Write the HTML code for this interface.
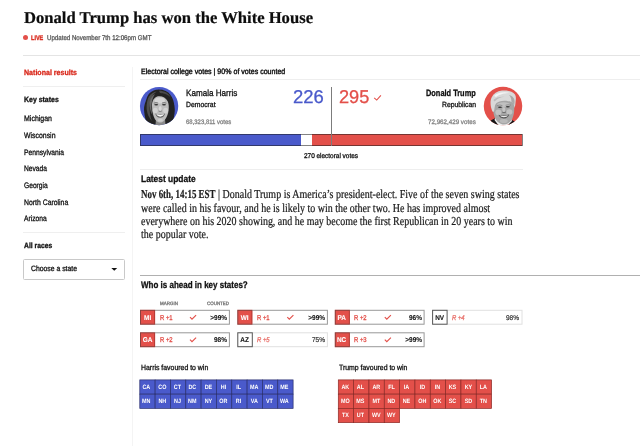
<!DOCTYPE html>
<html lang="en"><head><meta charset="utf-8"><title>Donald Trump has won the White House</title>
<style>
html,body{margin:0;padding:0;background:#fff;}
body{width:640px;height:446px;position:relative;overflow:hidden;font-family:"Liberation Sans",sans-serif;}
.t{position:absolute;white-space:nowrap;line-height:1;text-rendering:geometricPrecision;transform-origin:0 0;margin:0;padding:0;}
.hr{position:absolute;height:1px;}
.abs{position:absolute;}
</style></head><body>

<div class="hr" style="left:23px;top:55px;width:617px;background:#e4e4e4"></div>
<div class="hr" style="left:23px;top:86px;width:102px;background:#efefef"></div>
<div class="hr" style="left:23px;top:232px;width:102px;background:#efefef"></div>
<div class="abs" style="left:131.5px;top:67px;width:1px;height:379px;background:#f4f4f4"></div>
<div class="hr" style="left:140px;top:79px;width:500px;background:#eeeeee"></div>
<div class="hr" style="left:140px;top:169px;width:383px;background:#eeeeee"></div>
<div class="hr" style="left:140px;top:275px;width:500px;background:#b0b0b0"></div>
<div class="abs" style="left:23.2px;top:34.8px;width:5px;height:5px;border-radius:50%;background:#e3504a"></div>
<div class="abs" style="left:23px;top:259px;width:100px;height:18.5px;border:1px solid #c9c9c9;border-radius:1.5px;box-sizing:content-box"></div>
<svg class="abs" style="left:110.5px;top:268px" width="7" height="3.5" viewBox="0 0 7 3.5"><path d="M0.3 0H6.2L3.25 2.8Z" fill="#111"/></svg>
<div class="abs" style="left:140px;top:134px;width:160.5px;height:12px;background:#4a5acb"></div>
<div class="abs" style="left:312.3px;top:134px;width:210.2px;height:12px;background:#e3504a"></div>
<div class="abs" style="left:139.8px;top:133.6px;width:382.8px;height:12.6px;border:0.8px solid rgba(30,30,30,0.55);box-sizing:border-box"></div>
<div class="abs" style="left:331px;top:87px;width:1px;height:59px;background:#7c7c7c"></div>
<svg class="abs" style="left:373px;top:93.7px" width="10" height="8" viewBox="0 0 10 8"><path d="M1.2 3.9L3.7 6.1L7.9 1.4" fill="none" stroke="#e3504a" stroke-width="1.1"/></svg>
<svg class="abs" style="left:139px;top:85.6px" width="40" height="40" viewBox="0 0 40 40">
<defs><clipPath id="ch"><circle cx="20.1" cy="20.1" r="19.15"/></clipPath>
<filter id="b1" x="-20%" y="-20%" width="140%" height="140%"><feGaussianBlur stdDeviation="0.55"/></filter></defs>
<circle cx="20.1" cy="20.1" r="19.15" fill="#4a5acb"/>
<g clip-path="url(#ch)"><g filter="url(#b1)">
<path d="M19.7 3.6C13 3.6 9 8 7.6 12.5C6 17 4.8 20 5 23.5C5.2 27 5.6 29 6 31C6.6 34.5 7.5 37 9 40L32.5 40C34 37 34.6 34 35 30.5C35.8 27 36 24 35.6 21C35 16 34 12 31.5 9C29 5.5 25 3.6 19.7 3.6Z" fill="#242424"/>
<path d="M8.6 14C9.6 9.6 13 6.4 17.5 5.4C14 8 12.4 11 11.4 15C10.4 19 10.4 23 11 28C11.4 31 12 33 13 35C10 32 8.4 28 7.8 24C7.4 20 7.8 17 8.6 14Z" fill="#505050"/>
<path d="M10.6 17C11 13 13 9.6 16 8C14 11 13 14 12.6 18C12.2 22 12.6 26 13.4 29C11.4 26 10.4 21 10.6 17Z" fill="#6a6a6a"/>
<path d="M20 4.8C25 4.8 29.4 7 31.4 11C28.5 8.4 25 7.2 21 7Z" fill="#4a4a4a"/>
<path d="M16.6 38L17 33L26 33L26.4 38L28 40L15 40Z" fill="#8a8a8a"/>
<path d="M13 20C12.8 15 15 11.5 18.3 10.4C19.2 10.1 19.6 10.2 20 10.3C23.5 10.2 27.2 12 28.8 15.5C29.8 18 30 21 29.6 24C29.2 28 27.8 31.5 25.7 34C24.2 35.8 22.6 36.6 21.3 36.6C19.8 36.6 18 35.8 16.6 34C14.6 31.2 13.2 27 13 20Z" fill="#bdbdbd"/>
<ellipse cx="20.8" cy="14.4" rx="5.2" ry="3" fill="#d6d6d6"/>
<ellipse cx="16.2" cy="24.6" rx="2.5" ry="2.8" fill="#d2d2d2"/>
<ellipse cx="26.6" cy="24.6" rx="2.5" ry="2.8" fill="#d2d2d2"/>
<ellipse cx="21.2" cy="22.6" rx="1.4" ry="2.6" fill="#d8d8d8"/>
<ellipse cx="21.3" cy="34" rx="2.6" ry="1.5" fill="#cfcfcf"/>
<ellipse cx="17.2" cy="18.8" rx="2" ry="0.8" fill="#333"/>
<ellipse cx="25" cy="18.8" rx="2" ry="0.8" fill="#333"/>
<path d="M14.8 17.2Q17 16 19.2 17" stroke="#4a4a4a" stroke-width="0.6" fill="none"/>
<path d="M23 17Q25.2 16 27.4 17.2" stroke="#4a4a4a" stroke-width="0.6" fill="none"/>
<path d="M19.6 25Q21.2 26 22.8 25" stroke="#777" stroke-width="0.9" fill="none"/>
<path d="M16.2 27.4Q21.2 29.2 26.2 27.4Q25 31.6 21.2 31.8Q17.4 31.6 16.2 27.4Z" fill="#666"/>
<path d="M17.1 28.1Q21.2 29.4 25.3 28.1Q24.4 30.5 21.2 30.7Q18 30.5 17.1 28.1Z" fill="#f6f6f6"/>
</g></g></svg>
<svg class="abs" style="left:483px;top:85.6px" width="40" height="40" viewBox="0 0 40 40">
<defs><clipPath id="ct"><circle cx="20" cy="20.1" r="19.25"/></clipPath></defs>
<circle cx="20" cy="20.1" r="19.25" fill="#e3504a"/>
<g clip-path="url(#ct)"><g filter="url(#b1)">
<path d="M5 40L7.6 34.6L12.5 32L28 33.4L32.5 36L35 40Z" fill="#151515"/>
<path d="M11.5 34L12.5 31L28 32L29 35L24 40L16 40Z" fill="#f0f0f0"/>
<path d="M10 21C9.8 17 12 14 15 13L27 13C30.4 14 31.4 17 31.2 21C31.4 25 31 29 29.4 32.4C27.5 36.2 24 38.4 20.8 38.4C17.6 38.4 14 36 12.2 32.4C10.6 29 10 25 10 21Z" fill="#a6a6a6"/>
<ellipse cx="20.6" cy="18.6" rx="6.5" ry="2.4" fill="#c0c0c0"/>
<ellipse cx="15.4" cy="26.4" rx="3" ry="2.8" fill="#c2c2c2"/>
<ellipse cx="26.4" cy="26" rx="3" ry="2.8" fill="#c2c2c2"/>
<ellipse cx="20.8" cy="23.6" rx="1.5" ry="2.6" fill="#c4c4c4"/>
<ellipse cx="20.8" cy="35" rx="4" ry="2" fill="#bababa"/>
<path d="M9.4 25.4C7.4 21 6.8 15 8.6 11.5C10.4 7.6 14 5.2 19 4.6C24.5 4 30 5.4 32 8.6C33.2 10.6 33 13 32.6 15.5C32.4 18 32.2 20 31.6 22C31.2 19.4 30.6 17.6 29.8 16.4C26 15 21 14 16.5 15.4C14 16.2 12.6 17.4 12 19.5C11.5 21.5 11.4 23.6 11 25.8Z" fill="#d9d9d9"/>
<path d="M11 10C14 6.4 21 5.6 27 7C22.6 7.2 17 7.8 13 11Z" fill="#f4f4f4"/>
<path d="M26 9C29 9.6 31.4 11.6 31.6 15C31.6 17 31.4 18.4 31 19.6C30.4 17.6 29.6 16.4 28.4 15.8C28.6 13.4 27.8 11 26 9Z" fill="#a9a9a9"/>
<path d="M10.4 14C12.6 11.6 17 10.4 21.5 10.8C17.4 11.4 14 12.8 11.6 15.6Z" fill="#bcbcbc"/>
<ellipse cx="17" cy="21.2" rx="2" ry="0.75" fill="#3a3a3a"/>
<ellipse cx="24.8" cy="20.8" rx="2" ry="0.75" fill="#3a3a3a"/>
<path d="M14.2 19.5Q17 18.5 19.4 19.6" stroke="#6e6e6e" stroke-width="0.6" fill="none"/>
<path d="M22.6 19.3Q25 18.3 27.8 19.1" stroke="#6e6e6e" stroke-width="0.6" fill="none"/>
<path d="M19.2 26.2Q21 27.3 23 26" stroke="#666" stroke-width="0.9" fill="none"/>
<path d="M15.4 28.8Q20.8 30.2 26.4 28.2Q25.2 32.2 20.8 32.5Q16.8 32.2 15.4 28.8Z" fill="#595959"/>
<path d="M16.8 29.5Q20.8 30.6 25.2 29.2Q24.2 31.1 20.8 31.3Q18 31.1 16.8 29.5Z" fill="#e9e9e9"/>
</g></g></svg>
<svg class="abs" style="left:0;top:0" width="640" height="446" viewBox="0 0 640 446"><rect x="139.80" y="379.90" width="15.33" height="14.25" fill="#4a5acb" stroke="#2a2f6e" stroke-width="0.7"/><rect x="155.13" y="379.90" width="15.33" height="14.25" fill="#4a5acb" stroke="#2a2f6e" stroke-width="0.7"/><rect x="170.46" y="379.90" width="15.33" height="14.25" fill="#4a5acb" stroke="#2a2f6e" stroke-width="0.7"/><rect x="185.79" y="379.90" width="15.33" height="14.25" fill="#4a5acb" stroke="#2a2f6e" stroke-width="0.7"/><rect x="201.12" y="379.90" width="15.33" height="14.25" fill="#4a5acb" stroke="#2a2f6e" stroke-width="0.7"/><rect x="216.45" y="379.90" width="15.33" height="14.25" fill="#4a5acb" stroke="#2a2f6e" stroke-width="0.7"/><rect x="231.78" y="379.90" width="15.33" height="14.25" fill="#4a5acb" stroke="#2a2f6e" stroke-width="0.7"/><rect x="247.11" y="379.90" width="15.33" height="14.25" fill="#4a5acb" stroke="#2a2f6e" stroke-width="0.7"/><rect x="262.44" y="379.90" width="15.33" height="14.25" fill="#4a5acb" stroke="#2a2f6e" stroke-width="0.7"/><rect x="277.77" y="379.90" width="15.33" height="14.25" fill="#4a5acb" stroke="#2a2f6e" stroke-width="0.7"/><rect x="139.80" y="394.15" width="15.33" height="14.25" fill="#4a5acb" stroke="#2a2f6e" stroke-width="0.7"/><rect x="155.13" y="394.15" width="15.33" height="14.25" fill="#4a5acb" stroke="#2a2f6e" stroke-width="0.7"/><rect x="170.46" y="394.15" width="15.33" height="14.25" fill="#4a5acb" stroke="#2a2f6e" stroke-width="0.7"/><rect x="185.79" y="394.15" width="15.33" height="14.25" fill="#4a5acb" stroke="#2a2f6e" stroke-width="0.7"/><rect x="201.12" y="394.15" width="15.33" height="14.25" fill="#4a5acb" stroke="#2a2f6e" stroke-width="0.7"/><rect x="216.45" y="394.15" width="15.33" height="14.25" fill="#4a5acb" stroke="#2a2f6e" stroke-width="0.7"/><rect x="231.78" y="394.15" width="15.33" height="14.25" fill="#4a5acb" stroke="#2a2f6e" stroke-width="0.7"/><rect x="247.11" y="394.15" width="15.33" height="14.25" fill="#4a5acb" stroke="#2a2f6e" stroke-width="0.7"/><rect x="262.44" y="394.15" width="15.33" height="14.25" fill="#4a5acb" stroke="#2a2f6e" stroke-width="0.7"/><rect x="277.77" y="394.15" width="15.33" height="14.25" fill="#4a5acb" stroke="#2a2f6e" stroke-width="0.7"/><rect x="338.30" y="379.90" width="15.33" height="14.25" fill="#e3504a" stroke="#8c2b27" stroke-width="0.7"/><rect x="353.63" y="379.90" width="15.33" height="14.25" fill="#e3504a" stroke="#8c2b27" stroke-width="0.7"/><rect x="368.96" y="379.90" width="15.33" height="14.25" fill="#e3504a" stroke="#8c2b27" stroke-width="0.7"/><rect x="384.29" y="379.90" width="15.33" height="14.25" fill="#e3504a" stroke="#8c2b27" stroke-width="0.7"/><rect x="399.62" y="379.90" width="15.33" height="14.25" fill="#e3504a" stroke="#8c2b27" stroke-width="0.7"/><rect x="414.95" y="379.90" width="15.33" height="14.25" fill="#e3504a" stroke="#8c2b27" stroke-width="0.7"/><rect x="430.28" y="379.90" width="15.33" height="14.25" fill="#e3504a" stroke="#8c2b27" stroke-width="0.7"/><rect x="445.61" y="379.90" width="15.33" height="14.25" fill="#e3504a" stroke="#8c2b27" stroke-width="0.7"/><rect x="460.94" y="379.90" width="15.33" height="14.25" fill="#e3504a" stroke="#8c2b27" stroke-width="0.7"/><rect x="476.27" y="379.90" width="15.33" height="14.25" fill="#e3504a" stroke="#8c2b27" stroke-width="0.7"/><rect x="338.30" y="394.15" width="15.33" height="14.25" fill="#e3504a" stroke="#8c2b27" stroke-width="0.7"/><rect x="353.63" y="394.15" width="15.33" height="14.25" fill="#e3504a" stroke="#8c2b27" stroke-width="0.7"/><rect x="368.96" y="394.15" width="15.33" height="14.25" fill="#e3504a" stroke="#8c2b27" stroke-width="0.7"/><rect x="384.29" y="394.15" width="15.33" height="14.25" fill="#e3504a" stroke="#8c2b27" stroke-width="0.7"/><rect x="399.62" y="394.15" width="15.33" height="14.25" fill="#e3504a" stroke="#8c2b27" stroke-width="0.7"/><rect x="414.95" y="394.15" width="15.33" height="14.25" fill="#e3504a" stroke="#8c2b27" stroke-width="0.7"/><rect x="430.28" y="394.15" width="15.33" height="14.25" fill="#e3504a" stroke="#8c2b27" stroke-width="0.7"/><rect x="445.61" y="394.15" width="15.33" height="14.25" fill="#e3504a" stroke="#8c2b27" stroke-width="0.7"/><rect x="460.94" y="394.15" width="15.33" height="14.25" fill="#e3504a" stroke="#8c2b27" stroke-width="0.7"/><rect x="476.27" y="394.15" width="15.33" height="14.25" fill="#e3504a" stroke="#8c2b27" stroke-width="0.7"/><rect x="338.30" y="408.40" width="15.33" height="14.25" fill="#e3504a" stroke="#8c2b27" stroke-width="0.7"/><rect x="353.63" y="408.40" width="15.33" height="14.25" fill="#e3504a" stroke="#8c2b27" stroke-width="0.7"/><rect x="368.96" y="408.40" width="15.33" height="14.25" fill="#e3504a" stroke="#8c2b27" stroke-width="0.7"/><rect x="384.29" y="408.40" width="15.33" height="14.25" fill="#e3504a" stroke="#8c2b27" stroke-width="0.7"/><rect x="140.00" y="309.80" width="15.10" height="14.90" fill="#e3504a"/><rect x="140.50" y="310.30" width="88.90" height="13.90" fill="none" stroke="rgba(50,50,50,0.5)" stroke-width="1"/><path d="M154.60 310.80V323.70" stroke="rgba(120,30,25,0.55)" stroke-width="0.8"/><path d="M190.00 317.20l2 2l4.1 -4" fill="none" stroke="#e3504a" stroke-width="1.15"/><rect x="237.30" y="309.80" width="15.10" height="14.90" fill="#e3504a"/><rect x="237.80" y="310.30" width="89.60" height="13.90" fill="none" stroke="rgba(50,50,50,0.5)" stroke-width="1"/><path d="M251.90 310.80V323.70" stroke="rgba(120,30,25,0.55)" stroke-width="0.8"/><path d="M287.30 317.20l2 2l4.1 -4" fill="none" stroke="#e3504a" stroke-width="1.15"/><rect x="334.80" y="309.80" width="15.10" height="14.90" fill="#e3504a"/><rect x="335.30" y="310.30" width="88.80" height="13.90" fill="none" stroke="rgba(50,50,50,0.5)" stroke-width="1"/><path d="M349.40 310.80V323.70" stroke="rgba(120,30,25,0.55)" stroke-width="0.8"/><path d="M384.80 317.20l2 2l4.1 -4" fill="none" stroke="#e3504a" stroke-width="1.15"/><rect x="432.60" y="310.30" width="89.40" height="13.90" fill="none" stroke="#e0e0e0" stroke-width="1"/><rect x="432.60" y="310.30" width="14.50" height="13.90" fill="#fff" stroke="#555" stroke-width="1"/><rect x="140.00" y="332.30" width="15.10" height="14.90" fill="#e3504a"/><rect x="140.50" y="332.80" width="88.90" height="13.90" fill="none" stroke="rgba(50,50,50,0.5)" stroke-width="1"/><path d="M154.60 333.30V346.20" stroke="rgba(120,30,25,0.55)" stroke-width="0.8"/><path d="M190.00 339.70l2 2l4.1 -4" fill="none" stroke="#e3504a" stroke-width="1.15"/><rect x="237.80" y="332.80" width="89.60" height="13.90" fill="none" stroke="#e0e0e0" stroke-width="1"/><rect x="237.80" y="332.80" width="14.50" height="13.90" fill="#fff" stroke="#555" stroke-width="1"/><rect x="334.80" y="332.30" width="15.10" height="14.90" fill="#e3504a"/><rect x="335.30" y="332.80" width="88.80" height="13.90" fill="none" stroke="rgba(50,50,50,0.5)" stroke-width="1"/><path d="M349.40 333.30V346.20" stroke="rgba(120,30,25,0.55)" stroke-width="0.8"/><path d="M384.80 339.70l2 2l4.1 -4" fill="none" stroke="#e3504a" stroke-width="1.15"/></svg>
<h1 class="t" id="t0" style="font-family:'Liberation Serif',serif;font-size:16.6px;line-height:19px;font-weight:700;color:#0d0d0d;top:8.000px;-webkit-text-stroke:0.22px #0d0d0d;left:24.0px;transform:scaleX(1.0014);">Donald Trump has won the White House</h1>
<span class="t" id="t1" style="font-family:'Liberation Sans',sans-serif;font-size:6.6px;line-height:7px;font-weight:700;color:#d9291c;top:35.000px;-webkit-text-stroke:0.3px #d9291c;left:30.6px;transform:scaleX(0.8392);">LIVE</span>
<span class="t" id="t2" style="font-family:'Liberation Sans',sans-serif;font-size:6.9px;line-height:7px;font-weight:400;color:#595959;top:35.000px;-webkit-text-stroke:0.3px #595959;left:46.6px;transform:scaleX(0.8908);">Updated November 7th 12:06pm GMT</span>
<span class="t" id="t3" style="font-family:'Liberation Sans',sans-serif;font-size:7.7px;line-height:9px;font-weight:700;color:#d9291c;top:68.000px;-webkit-text-stroke:0.3px #d9291c;left:24px;transform:scaleX(0.9190);">National results</span>
<span class="t" id="t4" style="font-family:'Liberation Sans',sans-serif;font-size:7.7px;line-height:9px;font-weight:700;color:#111;top:95.000px;-webkit-text-stroke:0.3px #111;left:24px;transform:scaleX(0.9033);">Key states</span>
<span class="t" id="t5" style="font-family:'Liberation Sans',sans-serif;font-size:7.9px;line-height:9px;font-weight:400;color:#111;top:114.250px;-webkit-text-stroke:0.3px #111;left:24px;transform:scaleX(0.8867);">Michigan</span>
<span class="t" id="t6" style="font-family:'Liberation Sans',sans-serif;font-size:7.9px;line-height:9px;font-weight:400;color:#111;top:130.950px;-webkit-text-stroke:0.3px #111;left:24px;transform:scaleX(0.8758);">Wisconsin</span>
<span class="t" id="t7" style="font-family:'Liberation Sans',sans-serif;font-size:7.9px;line-height:9px;font-weight:400;color:#111;top:147.650px;-webkit-text-stroke:0.3px #111;left:24px;transform:scaleX(0.8522);">Pennsylvania</span>
<span class="t" id="t8" style="font-family:'Liberation Sans',sans-serif;font-size:7.9px;line-height:9px;font-weight:400;color:#111;top:164.350px;-webkit-text-stroke:0.3px #111;left:24px;transform:scaleX(0.8455);">Nevada</span>
<span class="t" id="t9" style="font-family:'Liberation Sans',sans-serif;font-size:7.9px;line-height:9px;font-weight:400;color:#111;top:181.050px;-webkit-text-stroke:0.3px #111;left:24px;transform:scaleX(0.8459);">Georgia</span>
<span class="t" id="t10" style="font-family:'Liberation Sans',sans-serif;font-size:7.9px;line-height:9px;font-weight:400;color:#111;top:197.750px;-webkit-text-stroke:0.3px #111;left:24px;transform:scaleX(0.8698);">North Carolina</span>
<span class="t" id="t11" style="font-family:'Liberation Sans',sans-serif;font-size:7.9px;line-height:9px;font-weight:400;color:#111;top:214.450px;-webkit-text-stroke:0.3px #111;left:24px;transform:scaleX(0.8500);">Arizona</span>
<span class="t" id="t12" style="font-family:'Liberation Sans',sans-serif;font-size:7.7px;line-height:9px;font-weight:700;color:#111;top:241.000px;-webkit-text-stroke:0.3px #111;left:24px;transform:scaleX(0.8811);">All races</span>
<span class="t" id="t13" style="font-family:'Liberation Sans',sans-serif;font-size:7.7px;line-height:9px;font-weight:400;color:#111;top:264.250px;-webkit-text-stroke:0.3px #111;left:31.25px;transform:scaleX(0.8894);">Choose a state</span>
<span class="t" id="t14" style="font-family:'Liberation Sans',sans-serif;font-size:7.8px;line-height:9px;font-weight:400;color:#111;top:67.000px;-webkit-text-stroke:0.4px #111;left:140.75px;transform:scaleX(0.9052);">Electoral college votes | 90% of votes counted</span>
<span class="t" id="t15" style="font-family:'Liberation Sans',sans-serif;font-size:9.1px;line-height:10px;font-weight:400;color:#111;top:88.000px;-webkit-text-stroke:0.3px #111;left:186.2px;transform:scaleX(0.8905);">Kamala Harris</span>
<span class="t" id="t16" style="font-family:'Liberation Sans',sans-serif;font-size:7.5px;line-height:9px;font-weight:400;color:#111;top:100.000px;-webkit-text-stroke:0.3px #111;left:186.2px;transform:scaleX(0.9088);">Democrat</span>
<span class="t" id="t17" style="font-family:'Liberation Sans',sans-serif;font-size:6.5px;line-height:7px;font-weight:400;color:#858585;top:118.500px;-webkit-text-stroke:0.3px #858585;left:186.2px;transform:scaleX(0.9169);">68,323,811 votes</span>
<span class="t" id="t18" style="font-family:'Liberation Sans',sans-serif;font-size:18.5px;line-height:21px;font-weight:400;color:#4a5acb;top:86.000px;-webkit-text-stroke:0.3px #4a5acb;left:293.2px;transform:scaleX(0.9976);">226</span>
<span class="t" id="t19" style="font-family:'Liberation Sans',sans-serif;font-size:18.5px;line-height:21px;font-weight:400;color:#e3504a;top:86.000px;-webkit-text-stroke:0.3px #e3504a;left:338.7px;transform:scaleX(0.9814);">295</span>
<span class="t" id="t20" style="font-family:'Liberation Sans',sans-serif;font-size:9.1px;line-height:10px;font-weight:700;color:#111;top:88.000px;-webkit-text-stroke:0.3px #111;left:426px;transform:scaleX(0.8137);">Donald Trump</span>
<span class="t" id="t21" style="font-family:'Liberation Sans',sans-serif;font-size:7.5px;line-height:9px;font-weight:400;color:#111;top:100.000px;-webkit-text-stroke:0.3px #111;left:441.75px;transform:scaleX(0.9059);">Republican</span>
<span class="t" id="t22" style="font-family:'Liberation Sans',sans-serif;font-size:6.5px;line-height:7px;font-weight:400;color:#858585;top:118.500px;-webkit-text-stroke:0.3px #858585;left:428px;transform:scaleX(0.9574);">72,962,429 votes</span>
<span class="t" id="t23" style="font-family:'Liberation Sans',sans-serif;font-size:6.9px;line-height:7px;font-weight:400;color:#111;top:153.000px;-webkit-text-stroke:0.3px #111;left:304px;transform:scaleX(0.9335);">270 electoral votes</span>
<span class="t" id="t24" style="font-family:'Liberation Sans',sans-serif;font-size:9.6px;line-height:11px;font-weight:700;color:#111;top:174.000px;-webkit-text-stroke:0.3px #111;left:140.6px;transform:scaleX(0.8754);">Latest update</span>
<span class="t" id="t25" style="font-family:'Liberation Serif',serif;font-size:12.2px;line-height:14px;font-weight:400;color:#1a1a1a;top:187.250px;-webkit-text-stroke:0.22px #1a1a1a;left:217.5px;transform:scaleX(0.8208);">| Donald Trump is America’s president-elect. Five of the seven swing states</span>
<span class="t" id="t26" style="font-family:'Liberation Serif',serif;font-size:12.2px;line-height:14px;font-weight:700;color:#1a1a1a;top:187.250px;-webkit-text-stroke:0.22px #1a1a1a;left:140.5px;transform:scaleX(0.7334);">Nov 6th, 14:15 EST</span>
<span class="t" id="t27" style="font-family:'Liberation Serif',serif;font-size:12.2px;line-height:14px;font-weight:400;color:#1a1a1a;top:200.500px;-webkit-text-stroke:0.22px #1a1a1a;left:140.5px;transform:scaleX(0.8189);">were called in his favour, and he is likely to win the other two. He has improved almost</span>
<span class="t" id="t28" style="font-family:'Liberation Serif',serif;font-size:12.2px;line-height:14px;font-weight:400;color:#1a1a1a;top:213.750px;-webkit-text-stroke:0.22px #1a1a1a;left:140.5px;transform:scaleX(0.8185);">everywhere on his 2020 showing, and he may become the first Republican in 20 years to win</span>
<span class="t" id="t29" style="font-family:'Liberation Serif',serif;font-size:12.2px;line-height:14px;font-weight:400;color:#1a1a1a;top:227.000px;-webkit-text-stroke:0.22px #1a1a1a;left:140.5px;transform:scaleX(0.8207);">the popular vote.</span>
<span class="t" id="t30" style="font-family:'Liberation Sans',sans-serif;font-size:9.6px;line-height:11px;font-weight:700;color:#111;top:280.250px;-webkit-text-stroke:0.3px #111;left:140.75px;transform:scaleX(0.8342);">Who is ahead in key states?</span>
<span class="t" id="t31" style="font-family:'Liberation Sans',sans-serif;font-size:4.8px;line-height:5px;font-weight:400;color:#777;top:302.000px;-webkit-text-stroke:0.3px #777;left:160px;transform:scaleX(0.9321);">MARGIN</span>
<span class="t" id="t32" style="font-family:'Liberation Sans',sans-serif;font-size:4.8px;line-height:5px;font-weight:400;color:#777;top:302.000px;-webkit-text-stroke:0.3px #777;left:206.5px;transform:scaleX(0.9275);">COUNTED</span>
<span class="t" id="t33" style="font-family:'Liberation Sans',sans-serif;font-size:7.6px;line-height:9px;font-weight:400;color:#111;top:363.000px;-webkit-text-stroke:0.3px #111;left:140.75px;transform:scaleX(0.9105);">Harris favoured to win</span>
<span class="t" id="t34" style="font-family:'Liberation Sans',sans-serif;font-size:7.6px;line-height:9px;font-weight:400;color:#111;top:363.000px;-webkit-text-stroke:0.3px #111;left:338.75px;transform:scaleX(0.9093);">Trump favoured to win</span>
<span class="t" id="t35" style="font-family:'Liberation Sans',sans-serif;font-size:7.0px;line-height:7px;font-weight:700;color:#fff;top:314.500px;-webkit-text-stroke:0.1px #fff;left:147.6px;transform:translateX(-50%) scaleX(0.9200);">MI</span>
<span class="t" id="t36" style="font-family:'Liberation Sans',sans-serif;font-size:7.0px;line-height:7px;font-weight:400;color:#e3504a;top:314.500px;-webkit-text-stroke:0.3px #e3504a;left:159.6px;transform:scaleX(0.8400);">R +1</span>
<span class="t" id="t37" style="font-family:'Liberation Sans',sans-serif;font-size:7.0px;line-height:7px;font-weight:700;color:#111;top:314.500px;-webkit-text-stroke:0.08px #111;right:412.7px;transform-origin:100% 0;transform:scaleX(0.9300);">&gt;99%</span>
<span class="t" id="t38" style="font-family:'Liberation Sans',sans-serif;font-size:7.0px;line-height:7px;font-weight:700;color:#fff;top:314.500px;-webkit-text-stroke:0.1px #fff;left:244.9px;transform:translateX(-50%) scaleX(0.9200);">WI</span>
<span class="t" id="t39" style="font-family:'Liberation Sans',sans-serif;font-size:7.0px;line-height:7px;font-weight:400;color:#e3504a;top:314.500px;-webkit-text-stroke:0.3px #e3504a;left:256.90000000000003px;transform:scaleX(0.8400);">R +1</span>
<span class="t" id="t40" style="font-family:'Liberation Sans',sans-serif;font-size:7.0px;line-height:7px;font-weight:700;color:#111;top:314.500px;-webkit-text-stroke:0.08px #111;right:315.4px;transform-origin:100% 0;transform:scaleX(0.9300);">&gt;99%</span>
<span class="t" id="t41" style="font-family:'Liberation Sans',sans-serif;font-size:7.0px;line-height:7px;font-weight:700;color:#fff;top:314.500px;-webkit-text-stroke:0.1px #fff;left:342.40000000000003px;transform:translateX(-50%) scaleX(0.9200);">PA</span>
<span class="t" id="t42" style="font-family:'Liberation Sans',sans-serif;font-size:7.0px;line-height:7px;font-weight:400;color:#e3504a;top:314.500px;-webkit-text-stroke:0.3px #e3504a;left:354.40000000000003px;transform:scaleX(0.8400);">R +2</span>
<span class="t" id="t43" style="font-family:'Liberation Sans',sans-serif;font-size:7.0px;line-height:7px;font-weight:700;color:#111;top:314.500px;-webkit-text-stroke:0.08px #111;right:217.89999999999998px;transform-origin:100% 0;transform:scaleX(0.9300);">96%</span>
<span class="t" id="t44" style="font-family:'Liberation Sans',sans-serif;font-size:7.0px;line-height:7px;font-weight:700;color:#111;top:314.500px;-webkit-text-stroke:0.1px #111;left:439.70000000000005px;transform:translateX(-50%) scaleX(0.9200);">NV</span>
<span class="t" id="t45" style="font-family:'Liberation Sans',sans-serif;font-size:7.0px;line-height:7px;font-weight:400;color:#e8706a;top:314.500px;font-style:italic;-webkit-text-stroke:0.3px #e8706a;left:451.70000000000005px;transform:scaleX(0.8400);">R +4</span>
<span class="t" id="t46" style="font-family:'Liberation Sans',sans-serif;font-size:7.0px;line-height:7px;font-weight:400;color:#333;top:314.500px;-webkit-text-stroke:0.2px #333;right:120.60000000000002px;transform-origin:100% 0;transform:scaleX(0.9300);">98%</span>
<span class="t" id="t47" style="font-family:'Liberation Sans',sans-serif;font-size:7.0px;line-height:7px;font-weight:700;color:#fff;top:337.000px;-webkit-text-stroke:0.1px #fff;left:147.6px;transform:translateX(-50%) scaleX(0.9200);">GA</span>
<span class="t" id="t48" style="font-family:'Liberation Sans',sans-serif;font-size:7.0px;line-height:7px;font-weight:400;color:#e3504a;top:337.000px;-webkit-text-stroke:0.3px #e3504a;left:159.6px;transform:scaleX(0.8400);">R +2</span>
<span class="t" id="t49" style="font-family:'Liberation Sans',sans-serif;font-size:7.0px;line-height:7px;font-weight:700;color:#111;top:337.000px;-webkit-text-stroke:0.08px #111;right:412.7px;transform-origin:100% 0;transform:scaleX(0.9300);">98%</span>
<span class="t" id="t50" style="font-family:'Liberation Sans',sans-serif;font-size:7.0px;line-height:7px;font-weight:700;color:#111;top:337.000px;-webkit-text-stroke:0.1px #111;left:244.9px;transform:translateX(-50%) scaleX(0.9200);">AZ</span>
<span class="t" id="t51" style="font-family:'Liberation Sans',sans-serif;font-size:7.0px;line-height:7px;font-weight:400;color:#e8706a;top:337.000px;font-style:italic;-webkit-text-stroke:0.3px #e8706a;left:256.90000000000003px;transform:scaleX(0.8400);">R +5</span>
<span class="t" id="t52" style="font-family:'Liberation Sans',sans-serif;font-size:7.0px;line-height:7px;font-weight:400;color:#333;top:337.000px;-webkit-text-stroke:0.2px #333;right:315.4px;transform-origin:100% 0;transform:scaleX(0.9300);">75%</span>
<span class="t" id="t53" style="font-family:'Liberation Sans',sans-serif;font-size:7.0px;line-height:7px;font-weight:700;color:#fff;top:337.000px;-webkit-text-stroke:0.1px #fff;left:342.40000000000003px;transform:translateX(-50%) scaleX(0.9200);">NC</span>
<span class="t" id="t54" style="font-family:'Liberation Sans',sans-serif;font-size:7.0px;line-height:7px;font-weight:400;color:#e3504a;top:337.000px;-webkit-text-stroke:0.3px #e3504a;left:354.40000000000003px;transform:scaleX(0.8400);">R +3</span>
<span class="t" id="t55" style="font-family:'Liberation Sans',sans-serif;font-size:7.0px;line-height:7px;font-weight:700;color:#111;top:337.000px;-webkit-text-stroke:0.08px #111;right:217.89999999999998px;transform-origin:100% 0;transform:scaleX(0.9300);">&gt;99%</span>
<span class="t" id="t56" style="font-family:'Liberation Sans',sans-serif;font-size:6.3px;line-height:7px;font-weight:700;color:#fff;top:383.900px;left:147.465px;transform:translateX(-50%) scaleX(0.8600);">CA</span>
<span class="t" id="t57" style="font-family:'Liberation Sans',sans-serif;font-size:6.3px;line-height:7px;font-weight:700;color:#fff;top:383.900px;left:162.79500000000002px;transform:translateX(-50%) scaleX(0.8600);">CO</span>
<span class="t" id="t58" style="font-family:'Liberation Sans',sans-serif;font-size:6.3px;line-height:7px;font-weight:700;color:#fff;top:383.900px;left:178.125px;transform:translateX(-50%) scaleX(0.8600);">CT</span>
<span class="t" id="t59" style="font-family:'Liberation Sans',sans-serif;font-size:6.3px;line-height:7px;font-weight:700;color:#fff;top:383.900px;left:193.455px;transform:translateX(-50%) scaleX(0.8600);">DC</span>
<span class="t" id="t60" style="font-family:'Liberation Sans',sans-serif;font-size:6.3px;line-height:7px;font-weight:700;color:#fff;top:383.900px;left:208.785px;transform:translateX(-50%) scaleX(0.8600);">DE</span>
<span class="t" id="t61" style="font-family:'Liberation Sans',sans-serif;font-size:6.3px;line-height:7px;font-weight:700;color:#fff;top:383.900px;left:224.115px;transform:translateX(-50%) scaleX(0.8600);">HI</span>
<span class="t" id="t62" style="font-family:'Liberation Sans',sans-serif;font-size:6.3px;line-height:7px;font-weight:700;color:#fff;top:383.900px;left:239.44500000000002px;transform:translateX(-50%) scaleX(0.8600);">IL</span>
<span class="t" id="t63" style="font-family:'Liberation Sans',sans-serif;font-size:6.3px;line-height:7px;font-weight:700;color:#fff;top:383.900px;left:254.775px;transform:translateX(-50%) scaleX(0.8600);">MA</span>
<span class="t" id="t64" style="font-family:'Liberation Sans',sans-serif;font-size:6.3px;line-height:7px;font-weight:700;color:#fff;top:383.900px;left:270.105px;transform:translateX(-50%) scaleX(0.8600);">MD</span>
<span class="t" id="t65" style="font-family:'Liberation Sans',sans-serif;font-size:6.3px;line-height:7px;font-weight:700;color:#fff;top:383.900px;left:285.435px;transform:translateX(-50%) scaleX(0.8600);">ME</span>
<span class="t" id="t66" style="font-family:'Liberation Sans',sans-serif;font-size:6.3px;line-height:7px;font-weight:700;color:#fff;top:398.150px;left:147.465px;transform:translateX(-50%) scaleX(0.8600);">MN</span>
<span class="t" id="t67" style="font-family:'Liberation Sans',sans-serif;font-size:6.3px;line-height:7px;font-weight:700;color:#fff;top:398.150px;left:162.79500000000002px;transform:translateX(-50%) scaleX(0.8600);">NH</span>
<span class="t" id="t68" style="font-family:'Liberation Sans',sans-serif;font-size:6.3px;line-height:7px;font-weight:700;color:#fff;top:398.150px;left:178.125px;transform:translateX(-50%) scaleX(0.8600);">NJ</span>
<span class="t" id="t69" style="font-family:'Liberation Sans',sans-serif;font-size:6.3px;line-height:7px;font-weight:700;color:#fff;top:398.150px;left:193.455px;transform:translateX(-50%) scaleX(0.8600);">NM</span>
<span class="t" id="t70" style="font-family:'Liberation Sans',sans-serif;font-size:6.3px;line-height:7px;font-weight:700;color:#fff;top:398.150px;left:208.785px;transform:translateX(-50%) scaleX(0.8600);">NY</span>
<span class="t" id="t71" style="font-family:'Liberation Sans',sans-serif;font-size:6.3px;line-height:7px;font-weight:700;color:#fff;top:398.150px;left:224.115px;transform:translateX(-50%) scaleX(0.8600);">OR</span>
<span class="t" id="t72" style="font-family:'Liberation Sans',sans-serif;font-size:6.3px;line-height:7px;font-weight:700;color:#fff;top:398.150px;left:239.44500000000002px;transform:translateX(-50%) scaleX(0.8600);">RI</span>
<span class="t" id="t73" style="font-family:'Liberation Sans',sans-serif;font-size:6.3px;line-height:7px;font-weight:700;color:#fff;top:398.150px;left:254.775px;transform:translateX(-50%) scaleX(0.8600);">VA</span>
<span class="t" id="t74" style="font-family:'Liberation Sans',sans-serif;font-size:6.3px;line-height:7px;font-weight:700;color:#fff;top:398.150px;left:270.105px;transform:translateX(-50%) scaleX(0.8600);">VT</span>
<span class="t" id="t75" style="font-family:'Liberation Sans',sans-serif;font-size:6.3px;line-height:7px;font-weight:700;color:#fff;top:398.150px;left:285.435px;transform:translateX(-50%) scaleX(0.8600);">WA</span>
<span class="t" id="t76" style="font-family:'Liberation Sans',sans-serif;font-size:6.3px;line-height:7px;font-weight:700;color:#fff;top:383.900px;left:345.96500000000003px;transform:translateX(-50%) scaleX(0.8600);">AK</span>
<span class="t" id="t77" style="font-family:'Liberation Sans',sans-serif;font-size:6.3px;line-height:7px;font-weight:700;color:#fff;top:383.900px;left:361.295px;transform:translateX(-50%) scaleX(0.8600);">AL</span>
<span class="t" id="t78" style="font-family:'Liberation Sans',sans-serif;font-size:6.3px;line-height:7px;font-weight:700;color:#fff;top:383.900px;left:376.62500000000006px;transform:translateX(-50%) scaleX(0.8600);">AR</span>
<span class="t" id="t79" style="font-family:'Liberation Sans',sans-serif;font-size:6.3px;line-height:7px;font-weight:700;color:#fff;top:383.900px;left:391.95500000000004px;transform:translateX(-50%) scaleX(0.8600);">FL</span>
<span class="t" id="t80" style="font-family:'Liberation Sans',sans-serif;font-size:6.3px;line-height:7px;font-weight:700;color:#fff;top:383.900px;left:407.285px;transform:translateX(-50%) scaleX(0.8600);">IA</span>
<span class="t" id="t81" style="font-family:'Liberation Sans',sans-serif;font-size:6.3px;line-height:7px;font-weight:700;color:#fff;top:383.900px;left:422.61500000000007px;transform:translateX(-50%) scaleX(0.8600);">ID</span>
<span class="t" id="t82" style="font-family:'Liberation Sans',sans-serif;font-size:6.3px;line-height:7px;font-weight:700;color:#fff;top:383.900px;left:437.94500000000005px;transform:translateX(-50%) scaleX(0.8600);">IN</span>
<span class="t" id="t83" style="font-family:'Liberation Sans',sans-serif;font-size:6.3px;line-height:7px;font-weight:700;color:#fff;top:383.900px;left:453.27500000000003px;transform:translateX(-50%) scaleX(0.8600);">KS</span>
<span class="t" id="t84" style="font-family:'Liberation Sans',sans-serif;font-size:6.3px;line-height:7px;font-weight:700;color:#fff;top:383.900px;left:468.605px;transform:translateX(-50%) scaleX(0.8600);">KY</span>
<span class="t" id="t85" style="font-family:'Liberation Sans',sans-serif;font-size:6.3px;line-height:7px;font-weight:700;color:#fff;top:383.900px;left:483.935px;transform:translateX(-50%) scaleX(0.8600);">LA</span>
<span class="t" id="t86" style="font-family:'Liberation Sans',sans-serif;font-size:6.3px;line-height:7px;font-weight:700;color:#fff;top:398.150px;left:345.96500000000003px;transform:translateX(-50%) scaleX(0.8600);">MO</span>
<span class="t" id="t87" style="font-family:'Liberation Sans',sans-serif;font-size:6.3px;line-height:7px;font-weight:700;color:#fff;top:398.150px;left:361.295px;transform:translateX(-50%) scaleX(0.8600);">MS</span>
<span class="t" id="t88" style="font-family:'Liberation Sans',sans-serif;font-size:6.3px;line-height:7px;font-weight:700;color:#fff;top:398.150px;left:376.62500000000006px;transform:translateX(-50%) scaleX(0.8600);">MT</span>
<span class="t" id="t89" style="font-family:'Liberation Sans',sans-serif;font-size:6.3px;line-height:7px;font-weight:700;color:#fff;top:398.150px;left:391.95500000000004px;transform:translateX(-50%) scaleX(0.8600);">ND</span>
<span class="t" id="t90" style="font-family:'Liberation Sans',sans-serif;font-size:6.3px;line-height:7px;font-weight:700;color:#fff;top:398.150px;left:407.285px;transform:translateX(-50%) scaleX(0.8600);">NE</span>
<span class="t" id="t91" style="font-family:'Liberation Sans',sans-serif;font-size:6.3px;line-height:7px;font-weight:700;color:#fff;top:398.150px;left:422.61500000000007px;transform:translateX(-50%) scaleX(0.8600);">OH</span>
<span class="t" id="t92" style="font-family:'Liberation Sans',sans-serif;font-size:6.3px;line-height:7px;font-weight:700;color:#fff;top:398.150px;left:437.94500000000005px;transform:translateX(-50%) scaleX(0.8600);">OK</span>
<span class="t" id="t93" style="font-family:'Liberation Sans',sans-serif;font-size:6.3px;line-height:7px;font-weight:700;color:#fff;top:398.150px;left:453.27500000000003px;transform:translateX(-50%) scaleX(0.8600);">SC</span>
<span class="t" id="t94" style="font-family:'Liberation Sans',sans-serif;font-size:6.3px;line-height:7px;font-weight:700;color:#fff;top:398.150px;left:468.605px;transform:translateX(-50%) scaleX(0.8600);">SD</span>
<span class="t" id="t95" style="font-family:'Liberation Sans',sans-serif;font-size:6.3px;line-height:7px;font-weight:700;color:#fff;top:398.150px;left:483.935px;transform:translateX(-50%) scaleX(0.8600);">TN</span>
<span class="t" id="t96" style="font-family:'Liberation Sans',sans-serif;font-size:6.3px;line-height:7px;font-weight:700;color:#fff;top:412.400px;left:345.96500000000003px;transform:translateX(-50%) scaleX(0.8600);">TX</span>
<span class="t" id="t97" style="font-family:'Liberation Sans',sans-serif;font-size:6.3px;line-height:7px;font-weight:700;color:#fff;top:412.400px;left:361.295px;transform:translateX(-50%) scaleX(0.8600);">UT</span>
<span class="t" id="t98" style="font-family:'Liberation Sans',sans-serif;font-size:6.3px;line-height:7px;font-weight:700;color:#fff;top:412.400px;left:376.62500000000006px;transform:translateX(-50%) scaleX(0.8600);">WV</span>
<span class="t" id="t99" style="font-family:'Liberation Sans',sans-serif;font-size:6.3px;line-height:7px;font-weight:700;color:#fff;top:412.400px;left:391.95500000000004px;transform:translateX(-50%) scaleX(0.8600);">WY</span>
</body></html>
